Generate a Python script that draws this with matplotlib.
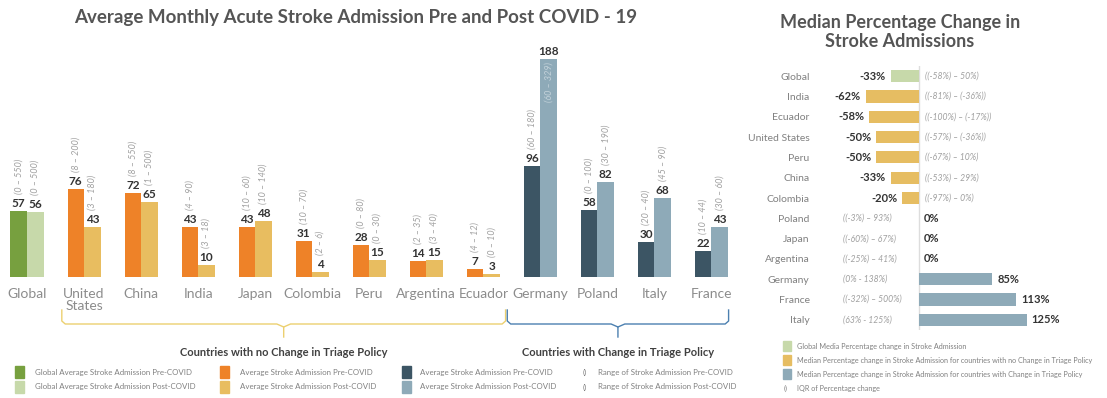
import numpy as np
import matplotlib
matplotlib.use("Agg")
import matplotlib.pyplot as plt
from matplotlib import transforms
from matplotlib.patches import Rectangle

plt.rcParams['font.family'] = ['Lato', 'DejaVu Sans']

# ---- left chart data ----
countries = ['Global', 'United\nStates', 'China', 'India', 'Japan', 'Colombia', 'Peru',
             'Argentina', 'Ecuador', 'Germany', 'Poland', 'Italy', 'France']
pre = [57, 76, 72, 43, 43, 31, 28, 14, 7, 96, 58, 30, 22]
post = [56, 43, 65, 10, 48, 4, 15, 15, 3, 188, 82, 68, 43]
pre_range = ['(0 – 550)', '(8 – 200)', '(8 – 550)', '(4 – 90)', '(10 – 60)', '(10 – 70)', '(0 – 80)',
             '(2 – 35)', '(4 – 12)', '(60 – 180)', '(0 – 100)', '(20 – 40)', '(10 – 44)']
post_range = ['(0 – 500)', '(3 – 180)', '(1 – 500)', '(3 – 18)', '(10 – 140)', '(2 – 6)', '(0 – 30)',
              '(3 – 40)', '(0 – 10)', '(60 – 329)', '(30 – 190)', '(45 – 90)', '(30 – 60)']
group = ['global'] + ['none'] * 8 + ['change'] * 4

# ---- right chart data ----
r_countries = ['Global', 'India', 'Ecuador', 'United States', 'Peru', 'China', 'Colombia',
               'Poland', 'Japan', 'Argentina', 'Germany', 'France', 'Italy']
r_change = [-33, -62, -58, -50, -50, -33, -20, 0, 0, 0, 85, 113, 125]
r_iqr = ['((-58%) – 50%)', '((-81%) – (-36%))', '((-100%) – (-17%))', '((-57%) – (-36%))',
         '((-67%) – 10%)', '((-53%) – 29%)', '((-97%) – 0%)', '((-3%) – 93%)', '((-60%) – 67%)',
         '((-25%) – 41%)', '(0% - 138%)', '((-32%) – 500%)', '(63% - 125%)']
r_group = ['global'] + ['none'] * 9 + ['change'] * 3

pre_col = {'global': '#77a03f', 'none': '#ee8228', 'change': '#3c5564'}
post_col = {'global': '#c7d9aa', 'none': '#e8bd60', 'change': '#8eaab8'}
r_col = {'global': '#c7d9aa', 'none': '#e6bd62', 'change': '#8eaab8'}

W, H = 1107, 398
fig = plt.figure(figsize=(W / 100, H / 100), dpi=100)


def fx(x):
    return x / W


def fy(y):
    return 1 - y / H


# ================= left chart =================
ax = fig.add_axes([fx(0), fy(277), fx(740), 232 / H])
x = np.arange(len(countries))
bw = 0.29
ax.bar(x - bw / 2, pre, bw, color=[pre_col[g] for g in group])
ax.bar(x + bw / 2, post, bw, color=[post_col[g] for g in group])
ax.set_xlim(-27 / 57, 12.5)
ax.set_ylim(0, 200)
ax.set_xticks(x)
ax.set_xticklabels(countries, fontsize=10, color='#8c8c8c', linespacing=0.95, va='top')
ax.tick_params(axis='x', length=0, pad=8)
ax.set_yticks([])
for s in ax.spines.values():
    s.set_visible(False)

for i in range(len(countries)):
    for xo, v, rg in ((x[i] - bw / 2, pre[i], pre_range[i]), (x[i] + bw / 2, post[i], post_range[i])):
        ax.annotate(str(v), (xo, v), xytext=(0, 2), textcoords='offset pixels',
                    ha='center', va='bottom', fontsize=8.5, fontweight='bold', color='#333333')
        if v > 150:
            ax.annotate(rg, (xo, v), xytext=(0, -3), textcoords='offset pixels', rotation=90,
                        ha='center', va='top', fontsize=6.5, style='italic', color='#c3d2da')
            continue
        ax.annotate(rg, (xo, v), xytext=(0, 17), textcoords='offset pixels', rotation=90,
                    ha='center', va='bottom', fontsize=6.5, style='italic', color='#a0a0a0')

# brackets below the axis
bt = transforms.blended_transform_factory(ax.transData, fig.transFigure)


def bracket(x0, x1, color):
    xc = (x0 + x1) / 2
    yt, yh, yc = fy(310), fy(324), fy(337)
    d = 0.06
    ax.plot([x0, x0, x0 + d, xc - 2 * d, xc, xc], [yt, fy(321), yh, yh, fy(327), yc],
            color=color, lw=1, transform=bt, clip_on=False)
    ax.plot([xc, xc + 2 * d, x1 - d, x1, x1], [fy(327), yh, yh, fy(321), yt],
            color=color, lw=1, transform=bt, clip_on=False)
    return xc


c1 = bracket(0.61, 8.39, '#ecd070')
c2 = bracket(8.42, 12.3, '#4c80b0')
ax.text(c1, fy(352), 'Countries with no Change in Triage Policy', transform=bt, ha='center',
        va='center', fontsize=8, fontweight='bold', color='#404040')
ax.text(c2, fy(352), 'Countries with Change in Triage Policy', transform=bt, ha='center',
        va='center', fontsize=8, fontweight='bold', color='#404040')

fig.text(fx(356), fy(17), 'Average Monthly Acute Stroke Admission Pre and Post COVID - 19',
         ha='center', va='center', fontsize=13.5, fontweight='bold', color='#555555')

# left legend
leg_items = [
    (15, 35, pre_col['global'], 'Global Average Stroke Admission Pre-COVID', 372),
    (15, 35, post_col['global'], 'Global Average Stroke Admission Post-COVID', 387),
    (220, 240, pre_col['none'], 'Average Stroke Admission Pre-COVID', 372),
    (220, 240, post_col['none'], 'Average Stroke Admission Post-COVID', 387),
    (402, 420, pre_col['change'], 'Average Stroke Admission Pre-COVID', 372),
    (402, 420, post_col['change'], 'Average Stroke Admission Post-COVID', 387),
]
for sx, tx, col, lab, yy in leg_items:
    fig.add_artist(Rectangle((fx(sx), fy(yy + 6)), 9 / W, 12 / H, color=col, transform=fig.transFigure))
    fig.text(fx(tx), fy(yy), lab, ha='left', va='center', fontsize=5.7, color='#808080')
for lab, yy in (('Range of Stroke Admission Pre-COVID', 372), ('Range of Stroke Admission Post-COVID', 387)):
    fig.text(fx(583), fy(yy), '()', ha='left', va='center', fontsize=5.7, color='#808080')
    fig.text(fx(598), fy(yy), lab, ha='left', va='center', fontsize=5.7, color='#808080')

# ================= right chart =================
ax2 = fig.add_axes([fx(829), fy(330), fx(262), 264 / H])
y = np.arange(len(r_countries))
ax2.barh(y, r_change, 0.6, color=[r_col[g] for g in r_group])
ax2.set_xlim(-105, 200)
ax2.set_ylim(12.5, -0.5)
ax2.axvline(0, color='#dddddd', lw=1, zorder=0)
ax2.set_yticks(y)
ax2.set_yticklabels(r_countries, fontsize=7.5, color='#808080')
ax2.tick_params(axis='y', length=0, pad=14)
ax2.set_xticks([])
for s in ax2.spines.values():
    s.set_visible(False)

for i, v in enumerate(r_change):
    lab = f'{v}%'
    if v < 0:
        ax2.annotate(lab, (v, i), xytext=(-5, 0), textcoords='offset pixels', ha='right',
                     va='center', fontsize=8, fontweight='bold', color='#333333')
        ax2.annotate(r_iqr[i], (0, i), xytext=(6, 0), textcoords='offset pixels', ha='left',
                     va='center', fontsize=6.2, style='italic', color='#a0a0a0')
    else:
        ax2.annotate(lab, (v, i), xytext=(5, 0), textcoords='offset pixels', ha='left',
                     va='center', fontsize=8, fontweight='bold', color='#333333')
        ax2.annotate(r_iqr[i], (-89, i), ha='left', va='center', fontsize=6.2,
                     style='italic', color='#a0a0a0')

fig.text(fx(900), fy(32), 'Median Percentage Change in\nStroke Admissions', ha='center',
         va='center', fontsize=13, fontweight='bold', color='#555555', linespacing=1.2)

r_leg = [(r_col['global'], 'Global Media Percentage change in Stroke Admission'),
         (r_col['none'], 'Median Percentage change in Stroke Admission for countries with no Change in Triage Policy'),
         (r_col['change'], 'Median Percentage change in Stroke Admission for countries with Change in Triage Policy')]
for k, (col, lab) in enumerate(r_leg):
    yy = 346 + 14 * k
    fig.add_artist(Rectangle((fx(783), fy(yy + 5)), 8 / W, 10 / H, color=col, transform=fig.transFigure))
    fig.text(fx(797), fy(yy), lab, ha='left', va='center', fontsize=5.2, color='#808080')
fig.text(fx(784), fy(388), '()', ha='left', va='center', fontsize=5.2, color='#808080')
fig.text(fx(797), fy(388), 'IQR of Percentage change', ha='left', va='center', fontsize=5.2, color='#808080')

fig.savefig('out.png', dpi=100)
